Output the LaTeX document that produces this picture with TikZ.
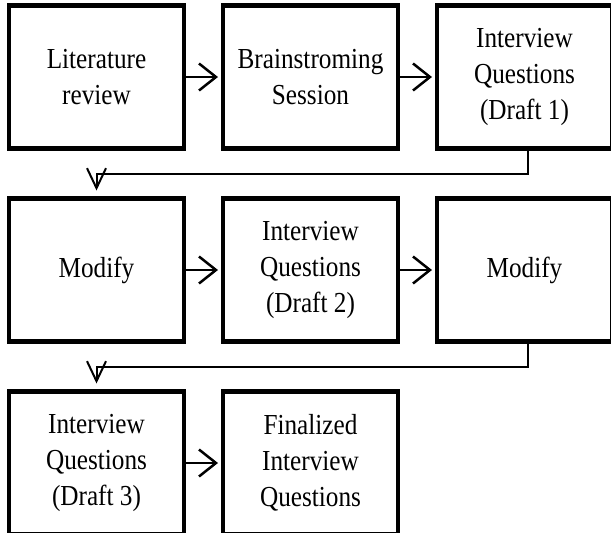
\documentclass[tikz,border=0pt]{standalone}
\usepackage{fontspec}
\setmainfont{Liberation Serif}[FakeStretch=0.87]
\usetikzlibrary{arrows.meta,positioning}

\begin{document}
\begin{tikzpicture}[x=1pt,y=1pt,node distance = 50pt and 39pt]

\tikzstyle{stage}=[draw=black,line width=4.5pt,minimum width=175pt,minimum height=143pt,outer sep=0pt,inner sep=2pt,align=center,font=\fontsize{29}{36}\selectfont]
\tikzstyle{next}=[line width=2.5pt,-{Straight Barb[length=17pt,width=27pt]},shorten >=5pt]
\tikzstyle{back}=[line width=2pt,-{Straight Barb[length=20pt,width=19pt]},shorten >=8pt]

\useasboundingbox (0,0) rectangle (611,-533);

%first round
\node [stage] (lit) at (96.5,-77) {Literature\\review};
\node [stage] (brain) [right=of lit] {Brainstroming\\Session};
\node [stage] (draft1) [right=of brain] {Interview\\Questions\\(Draft 1)};

\path (lit) edge [next] (brain)
      (brain) edge [next] (draft1);

%second round
\node [stage] (mod1) [below=of lit] {Modify};
\node [stage] (draft2) [right=of mod1] {Interview\\Questions\\(Draft 2)};
\node [stage] (mod2) [right=of draft2] {Modify};

\draw [back] (draft1.south) ++(3.5,0) -- ++(0,-25) -| (mod1.north);

\path (mod1) edge [next] (draft2)
      (draft2) edge [next] (mod2);

%final round
\node [stage] (draft3) [below=of mod1] {Interview\\Questions\\(Draft 3)};
\node [stage] (final) [right=of draft3] {Finalized\\Interview\\Questions};

\draw [back] (mod2.south) ++(3.5,0) -- ++(0,-25) -| (draft3.north);

\path (draft3) edge [next] (final);

\end{tikzpicture}
\end{document}
